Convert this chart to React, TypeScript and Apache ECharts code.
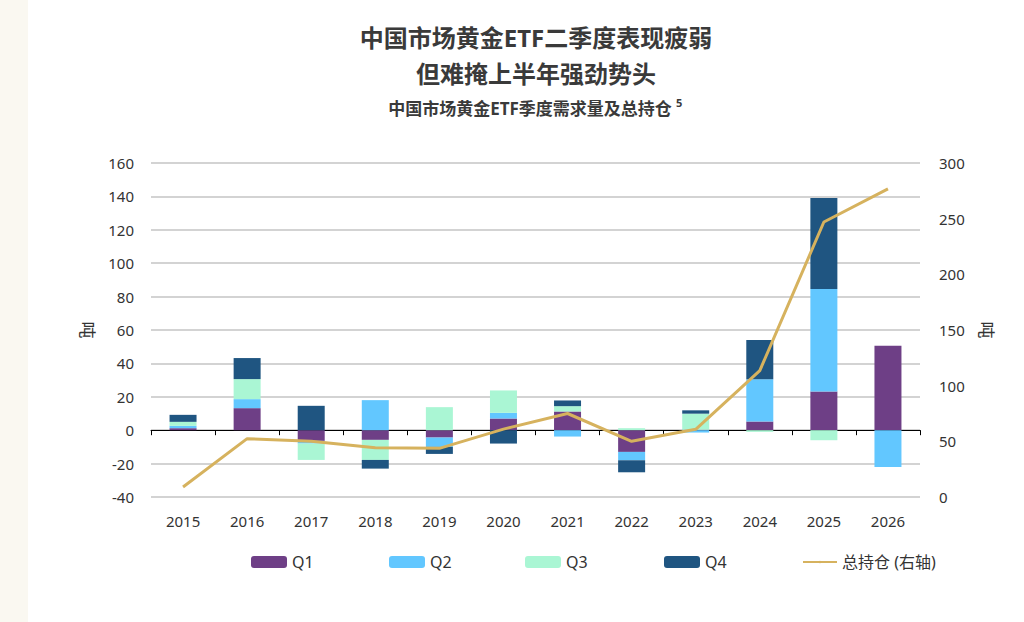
import React, { useEffect, useRef } from "react";
import * as echarts from "echarts";

// Years on the category axis
const years = ["2015", "2016", "2017", "2018", "2019", "2020", "2021", "2022", "2023", "2024", "2025", "2026"];

// Quarterly demand (tonnes)
const q1 = [1.2, 13.2, -6.4, -5.8, -4.4, 7.0, 11.2, -13.0, 0.3, 5.2, 23.2, 50.5];
const q2 = [1.4, 5.4, -1.6, 18.0, -5.6, 3.4, -3.8, -5.0, -1.4, 25.3, 61.3, -22.0];
const q3 = [2.4, 12.0, -9.8, -12.0, 13.8, 13.4, 3.2, 1.2, 9.6, -1.0, -6.0, null];
const q4 = [4.2, 12.6, 14.6, -5.2, -4.2, -8.0, 3.4, -7.2, 2.0, 23.5, 54.5, null];

// Total holdings (tonnes, right axis)
const holdings = [9, 52.4, 50, 44.3, 43.7, 61, 75, 50, 60.8, 113.5, 247, 276.7];

const seriesNames = ["Q1", "Q2", "Q3", "Q4"];
const lineName = "总持仓 (右轴)";

const COLORS = {
  q1: "#6E3F86",
  q2: "#62C7FF",
  q3: "#AAF6D4",
  q4: "#1F5581",
  line: "#D6B25E",
};

const FONT = "'Noto Sans', 'Noto Sans CJK SC', sans-serif";
const TEXT = "#333333";

export default function App() {
  const ref = useRef<HTMLDivElement>(null);

  useEffect(() => {
    if (!ref.current) return;
    const chart = echarts.init(ref.current, null, { renderer: "svg" });

    const barSeries = [q1, q2, q3, q4].map((d, i) => ({
      name: seriesNames[i],
      type: "bar",
      stack: "demand",
      barWidth: 27,
      xAxisIndex: 0,
      yAxisIndex: 0,
      itemStyle: { color: [COLORS.q1, COLORS.q2, COLORS.q3, COLORS.q4][i] },
      data: d,
    }));

    const legendLefts = [251, 389, 525, 664, 802];
    const legendNames = [...seriesNames, lineName];

    const centered = (text: string, x: number, y: number, size: number) => ({
      type: "text",
      x,
      y,
      style: {
        text,
        font: `bold ${size}px ${FONT}`,
        fill: "#3a3a3a",
        textAlign: "center",
        textVerticalAlign: "middle",
        align: "center",
        verticalAlign: "middle",
      },
    });

    chart.setOption({
      animation: false,
      backgroundColor: "#ffffff",
      textStyle: { fontFamily: FONT },
      graphic: [
        {
          type: "rect",
          shape: { x: 0, y: 0, width: 28, height: 622 },
          style: { fill: "#FAF8F1" },
          silent: true,
          z: -10,
        },
        centered("中国市场黄金ETF二季度表现疲弱", 536, 37, 24),
        centered("但难掩上半年强劲势头", 536, 73, 24),
        centered("中国市场黄金ETF季度需求量及总持仓", 530, 108, 17),
        {
          type: "text",
          x: 676,
          y: 102,
          style: {
            text: "5",
            font: `bold 11px ${FONT}`,
            fill: "#3a3a3a",
            textAlign: "left",
            textVerticalAlign: "middle",
            align: "left",
            verticalAlign: "middle",
          },
        },
      ],
      legend: legendNames.map((n, i) => ({
        data: [n],
        left: legendLefts[i],
        top: 554,
        padding: 0,
        itemWidth: i === 4 ? 34 : 36,
        itemHeight: i === 4 ? 3 : 12,
        textStyle: { color: TEXT, fontSize: 16, fontFamily: FONT },
      })),
      grid: { left: 151, right: 104, top: 163, bottom: 125 },
      xAxis: [
        {
          type: "category",
          data: years,
          position: "bottom",
          axisLine: { show: false, onZero: false },
          axisTick: { show: false },
          axisLabel: { color: TEXT, fontSize: 15, margin: 16, fontFamily: FONT },
        },
        {
          type: "category",
          data: years,
          position: "bottom",
          axisLine: { show: true, onZero: true, onZeroAxisIndex: 0, lineStyle: { color: "#000000", width: 1 } },
          axisTick: { show: true, length: 5, lineStyle: { color: "#000000" } },
          axisLabel: { show: false },
        },
      ],
      yAxis: [
        {
          type: "value",
          min: -40,
          max: 160,
          interval: 20,
          name: "吨",
          nameLocation: "middle",
          nameRotate: -90,
          nameGap: 55,
          nameTextStyle: { color: TEXT, fontSize: 17, fontFamily: FONT },
          axisLine: { show: false },
          axisTick: { show: false },
          axisLabel: { color: TEXT, fontSize: 15, margin: 17, fontFamily: FONT },
          splitLine: { show: true, lineStyle: { color: "#C4C4C4", width: 1.5 } },
        },
        {
          type: "value",
          min: 0,
          max: 300,
          interval: 50,
          name: "吨",
          nameLocation: "middle",
          nameRotate: -90,
          nameGap: 58,
          nameTextStyle: { color: TEXT, fontSize: 17, fontFamily: FONT },
          axisLine: { show: false },
          axisTick: { show: false },
          axisLabel: { color: TEXT, fontSize: 15, margin: 19, fontFamily: FONT },
          splitLine: { show: false },
        },
      ],
      series: [
        ...barSeries,
        {
          name: lineName,
          type: "line",
          xAxisIndex: 0,
          yAxisIndex: 1,
          symbol: "none",
          lineStyle: { color: COLORS.line, width: 3 },
          itemStyle: { color: COLORS.line },
          data: holdings,
          z: 5,
        },
      ],
    });

    return () => chart.dispose();
  }, []);

  return (
    <div
      ref={ref}
      style={{ position: "fixed", left: 0, top: 0, width: 1024, height: 622 }}
    />
  );
}
